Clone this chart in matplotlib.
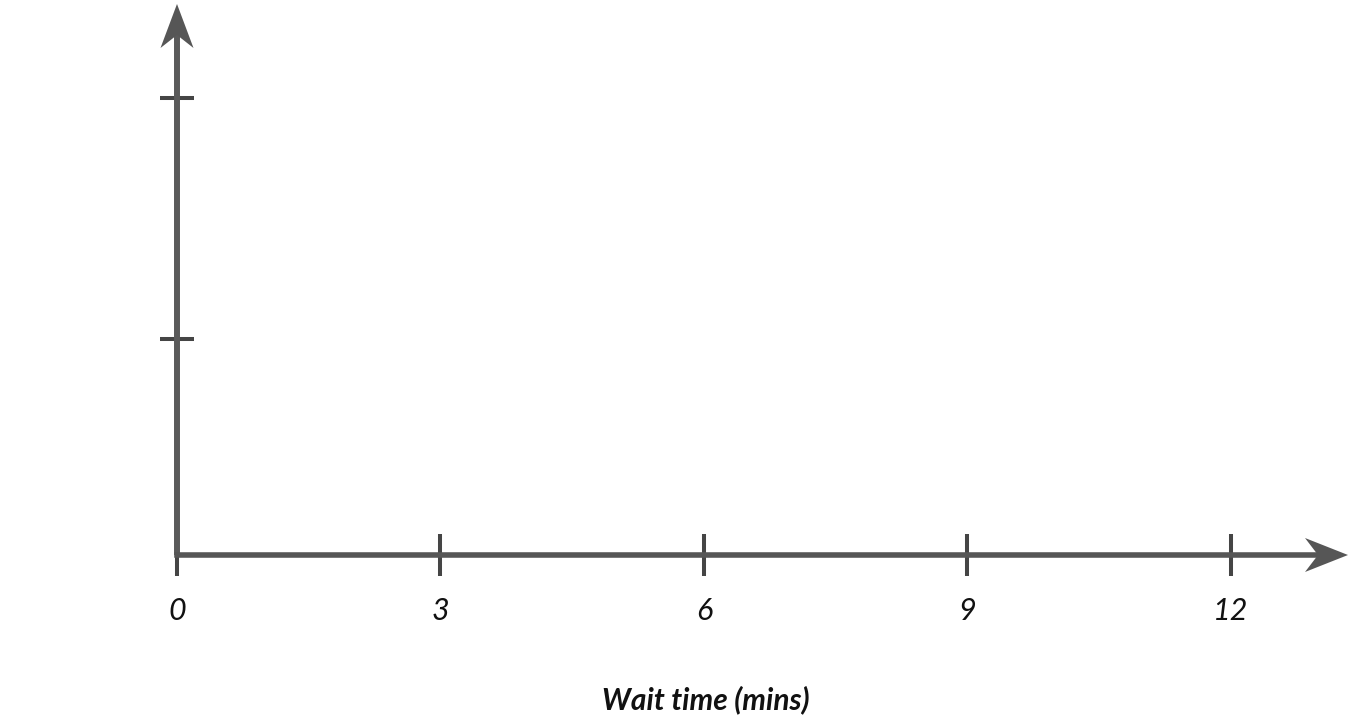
import matplotlib
matplotlib.use("Agg")
import matplotlib.pyplot as plt
import matplotlib.transforms as mtransforms
from matplotlib.patches import Polygon

# ---- data ----
x_ticks = [0, 3, 6, 9, 12]
x_tick_labels = ["0", "3", "6", "9", "12"]
y_ticks = [1, 2]
x_label = "Wait time (mins)"

AXIS_COLOR = "#565656"
TICK_COLOR = "#454545"
DPI = 100

fig = plt.figure(figsize=(13.5, 7.26), dpi=DPI)
ax = fig.add_axes([0, 0, 1, 1])
ax.set_facecolor("white")

# scales: 87.8 px per x unit, 241 px per y unit
ax.set_xlim(-177 / 87.8, (1350 - 177) / 87.8)
ax.set_ylim(-(726 - 580) / 241, 580 / 241)
x_axis_y = (580 - 555) / 241
x_end = (1348 - 177) / 87.8
y_end = (580 - 4) / 241

for s in ["top", "right"]:
    ax.spines[s].set_visible(False)
ax.spines["left"].set_position(("data", 0))
ax.spines["bottom"].set_position(("data", x_axis_y))
ax.spines["left"].set_bounds(x_axis_y, y_end - 0.12)
ax.spines["bottom"].set_bounds(0, x_end - 0.35)
ax.spines["left"].set_color("#5a5a5a")
ax.spines["bottom"].set_color(AXIS_COLOR)
ax.spines["left"].set_linewidth(4.3)
ax.spines["bottom"].set_linewidth(4.0)
ax.spines["left"].set_capstyle("butt")

ax.set_xticks(x_ticks)
ax.set_xticklabels(x_tick_labels)
ax.set_yticks(y_ticks)
ax.set_yticklabels([])
ax.tick_params(axis="x", direction="inout", length=30, width=2.9,
               color=TICK_COLOR, pad=15, labelsize=22)
ax.tick_params(axis="y", direction="inout", length=24.5, width=2.9,
               color=TICK_COLOR)
for lab in ax.get_xticklabels():
    lab.set_fontfamily(["Lato", "DejaVu Sans"])
    lab.set_fontstyle("italic")
    lab.set_color("#111111")

ax.set_xlabel(x_label, fontsize=21.5, fontfamily=["Lato", "DejaVu Sans"],
              fontstyle="italic", fontweight="bold", color="#111111")
ax.xaxis.set_label_coords((x_ticks[0] + x_ticks[-1]) / 2 + 0.02, 1 - 700 / 726,
                          transform=mtransforms.blended_transform_factory(
                              ax.transData, fig.transFigure))
ax.xaxis.label.set_verticalalignment("center")


def arrowhead(tip_x, tip_y, angle_deg, length_px, half_w_px, notch_px, color):
    px = 1.0 / DPI
    verts = [(0, 0), (-length_px * px, half_w_px * px),
             (-notch_px * px, 0), (-length_px * px, -half_w_px * px)]
    rot = mtransforms.Affine2D().rotate_deg(angle_deg)
    tr = rot + fig.dpi_scale_trans + mtransforms.ScaledTranslation(
        tip_x, tip_y, ax.transData)
    ax.add_patch(Polygon(verts, closed=True, transform=tr, facecolor=color,
                         edgecolor="none", clip_on=False, zorder=5))


arrowhead(x_end, x_axis_y, 0, 43, 17, 30, AXIS_COLOR)
arrowhead(0, y_end, 90, 44, 16.5, 31, AXIS_COLOR)

fig.savefig("out.png", dpi=DPI, facecolor="white")
